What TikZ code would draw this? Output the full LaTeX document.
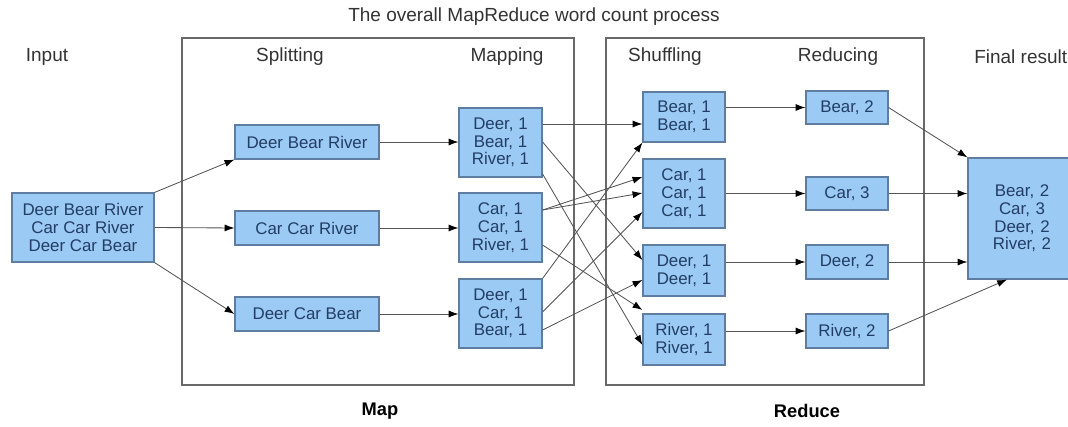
\documentclass[tikz,border=0pt]{standalone}
\usepackage{fontspec}
\setmainfont{Liberation Sans}
\usetikzlibrary{arrows.meta,positioning,calc}
\definecolor{boxfill}{RGB}{155,202,245}
\definecolor{boxline}{RGB}{95,125,160}
\definecolor{boxtext}{RGB}{35,62,100}
\definecolor{framegray}{RGB}{105,105,105}
\definecolor{arrowgray}{RGB}{85,85,85}

\begin{document}
\begin{tikzpicture}[x=0.025cm,y=-0.025cm,
  wbox/.style={draw=boxline,fill=boxfill,text=boxtext,line width=0.8pt,align=center,inner sep=0pt,font=\fontsize{12}{12.6}\selectfont},
  frame/.style={draw=framegray,line width=2pt},
  head/.style={text=black!80,font=\fontsize{13.5}{15}\selectfont},
  link/.style={draw=arrowgray,line width=0.6pt,-{Latex[length=7pt,width=5pt,black]}}]
\fill[white] (0,0) rectangle (1068,427);
\useasboundingbox (0,0) rectangle (1068,427);
\clip (0,0) rectangle (1068,427);

\draw[frame] (182,38) rectangle (574,385);
\draw[frame] (606,38) rectangle (924,385);

\node[head] (title) at (534,17) {The overall MapReduce word count process};
\node[head] (hinput) at (47,57) {Input};
\node[head] (hsplit) at (290,57) {Splitting};
\node[head] (hmap) at (507,57) {Mapping};
\node[head] (hshuf) at (665,57) {Shuffling};
\node[head] (hred) at (838,57) {Reducing};
\node[head,anchor=west,inner sep=0pt] (hfinal) at (974,57) {Final result};
\node[font=\bfseries\fontsize{13}{15}\selectfont] (lmap) at (380,411) {Map};
\node[font=\bfseries\fontsize{13}{15}\selectfont] (lreduce) at (807,411) {Reduce};

\node[wbox,minimum width=3.55cm,minimum height=1.725cm] (input) at (83,227.5) {Deer Bear River\\Car Car River\\Deer Car Bear};

\node[wbox,minimum width=3.6cm,minimum height=0.85cm] (split1) at (307,142) {Deer Bear River};
\node[wbox,minimum width=3.6cm,minimum height=0.85cm] (split2) at (307,228) {Car Car River};
\node[wbox,minimum width=3.6cm,minimum height=0.85cm] (split3) at (307,314) {Deer Car Bear};

\node[wbox,minimum width=2.075cm,minimum height=1.725cm] (map1) at (500.5,142.5) {Deer, 1\\Bear, 1\\River, 1};
\node[wbox,minimum width=2.075cm,minimum height=1.725cm] (map2) at (500.5,227.5) {Car, 1\\Car, 1\\River, 1};
\node[wbox,minimum width=2.075cm,minimum height=1.725cm] (map3) at (500.5,313.5) {Deer, 1\\Car, 1\\Bear, 1};

\node[wbox,minimum width=2.05cm,minimum height=1.25cm] (shufbear) at (684,117) {Bear, 1\\Bear, 1};
\node[wbox,minimum width=2.05cm,minimum height=1.725cm] (shufcar) at (684,193.5) {Car, 1\\Car, 1\\Car, 1};
\node[wbox,minimum width=2.05cm,minimum height=1.275cm] (shufdeer) at (684,270.5) {Deer, 1\\Deer, 1};
\node[wbox,minimum width=2.05cm,minimum height=1.275cm] (shufriver) at (684,339.5) {River, 1\\River, 1};

\node[wbox,minimum width=2.05cm,minimum height=0.825cm] (redbear) at (847,107.5) {Bear, 2};
\node[wbox,minimum width=2.05cm,minimum height=0.825cm] (redcar) at (847,193.5) {Car, 3};
\node[wbox,minimum width=2.05cm,minimum height=0.85cm] (reddeer) at (847,262) {Deer, 2};
\node[wbox,minimum width=2.05cm,minimum height=0.85cm] (redriver) at (847,331) {River, 2};

\node[wbox,minimum width=2.7cm,minimum height=3.025cm,text width=2.55cm] (final) at (1022,218.5) {Bear, 2\\Car, 3\\Deer, 2\\River, 2};

% splitting
\draw[link] (input.north east) -- (split1.south west);
\draw[link] (input.east) -- (split2.west);
\draw[link] (input.south east) -- (split3.west);

% mapping
\draw[link] (split1.east) -- (map1.west |- split1);
\draw[link] (split2.east) -- (map2.west |- split2);
\draw[link] (split3.east) -- (map3.west |- split3);

% shuffling
\draw[link] (map1.east |- 0,124) -- (shufbear.west |- 0,124);
\draw[link] (map1.east |- 0,142) -- (shufdeer.west |- 0,260);
\draw[link] (map1.east |- 0,174) -- (shufriver.west |- 0,345);
\draw[link] (map2.east |- 0,210) -- (shufcar.west |- 0,177);
\draw[link] (map2.east |- 0,210) -- (shufcar.west |- 0,193);
\draw[link] (map2.east |- 0,245) -- (shufriver.west |- 0,310);
\draw[link] (map3.north east) -- (shufbear.south west);
\draw[link] (map3.east |- 0,312) -- (shufcar.west |- 0,212);
\draw[link] (map3.east |- 0,330) -- (shufdeer.west |- 0,280);

% reducing
\draw[link] (shufbear.east |- redbear) -- (redbear.west);
\draw[link] (shufcar.east |- redcar) -- (redcar.west);
\draw[link] (shufdeer.east |- reddeer) -- (reddeer.west);
\draw[link] (shufriver.east |- redriver) -- (redriver.west);

% final result
\draw[link] (redbear.east) -- (final.north west);
\draw[link] (redcar.east) -- (final.west |- redcar);
\draw[link] (reddeer.east) -- (final.west |- reddeer);
\draw[link] (redriver.east) -- (final.south -| 1007,0);

\end{tikzpicture}
\end{document}
